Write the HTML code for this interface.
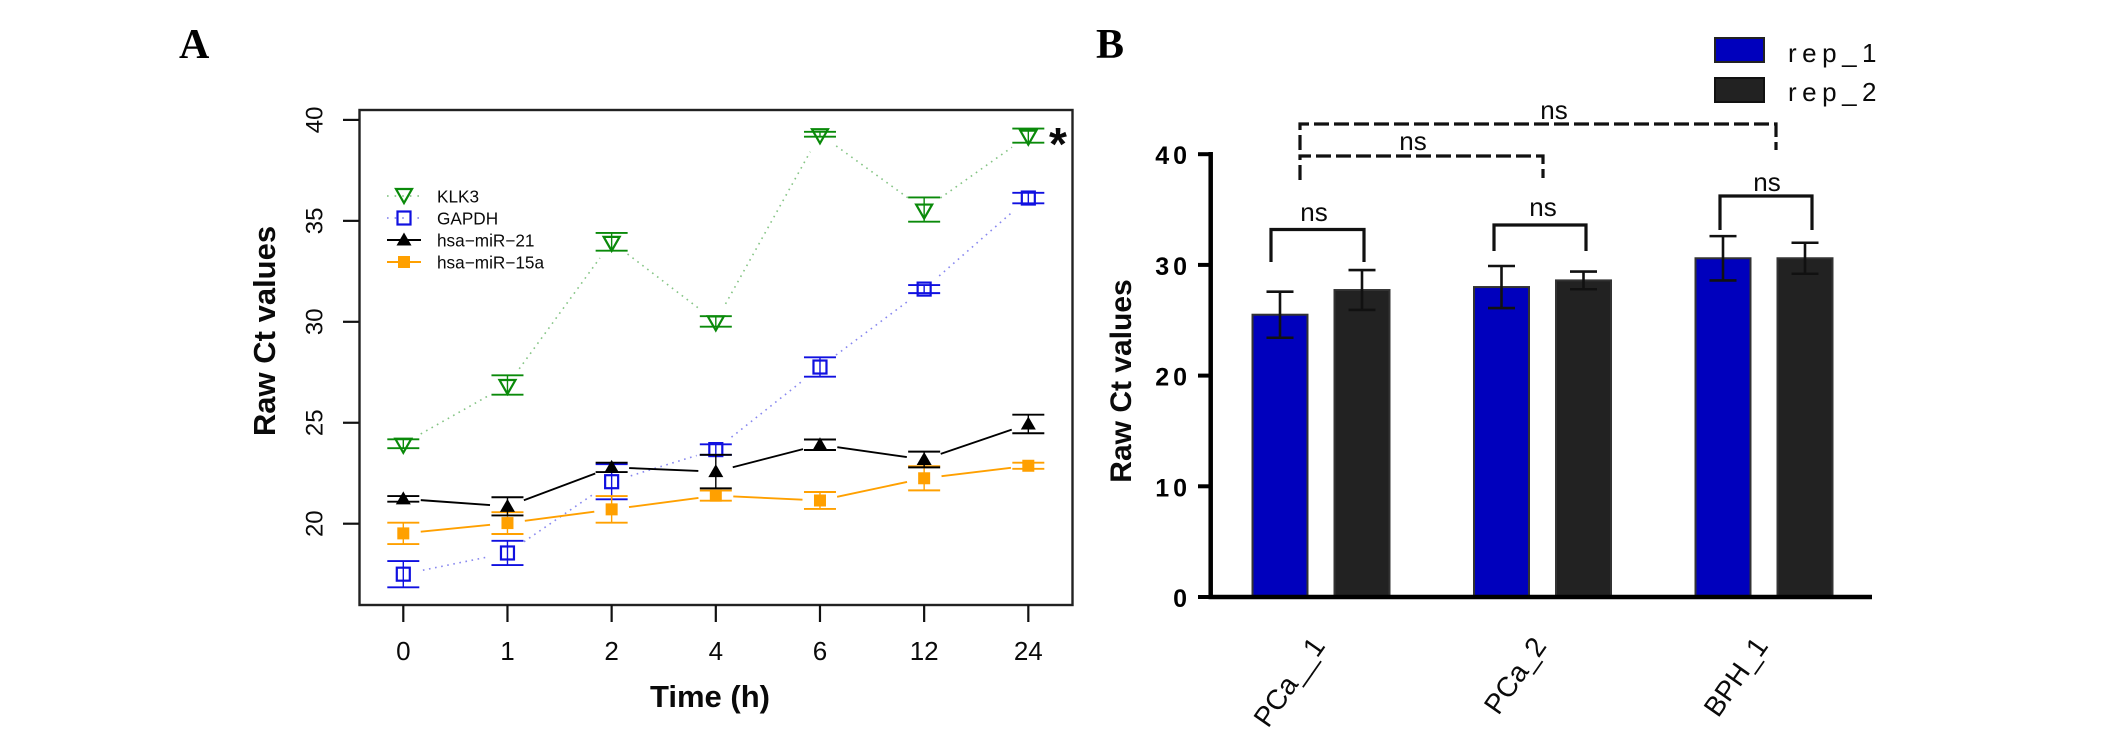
<!DOCTYPE html>
<html lang="en">
<head>
<meta charset="utf-8">
<title>Raw Ct values charts</title>
<style>
html,body{margin:0;padding:0;background:#fff;width:2126px;height:739px;overflow:hidden}
svg{display:block}
text{font-family:"Liberation Sans",sans-serif;fill:#0a0a0a}
</style>
</head>
<body>
<svg id="figure" width="2126" height="739" viewBox="0 0 2126 739" xmlns="http://www.w3.org/2000/svg">
  <rect width="2126" height="739" fill="#fff"/>
  <text x="179" y="58" style="font-family:'Liberation Serif',serif;font-weight:bold;font-size:42px;fill:#000">A</text>
  <text x="1096" y="58" style="font-family:'Liberation Serif',serif;font-weight:bold;font-size:42px;fill:#000">B</text>

  <rect x="359.5" y="110" width="713" height="495" fill="none" stroke="#222" stroke-width="2.4"/>
  <g id="panelA"></g>
  <text transform="translate(275,331) rotate(-90)" text-anchor="middle" style="font-weight:bold;font-size:31px">Raw Ct values</text>
  <text x="710" y="707" text-anchor="middle" style="font-weight:bold;font-size:31px">Time (h)</text>
  <text x="1058" y="160" text-anchor="middle" style="font-weight:bold;font-size:46px">*</text>

  <g id="legendA"></g>

  <g id="panelB"></g>
  <text transform="translate(1131,381) rotate(-90)" text-anchor="middle" style="font-weight:bold;font-size:30px">Raw Ct values</text>

  <g>
    <rect x="1715" y="38" width="49" height="24" fill="#0000bd" stroke="#222" stroke-width="2"/>
    <rect x="1715" y="78" width="49" height="24" fill="#222" stroke="#111" stroke-width="2"/>
    <text x="1788" y="62" style="font-size:26px;letter-spacing:5.5px">rep_1</text>
    <text x="1788" y="101" style="font-size:26px;letter-spacing:5.5px">rep_2</text>
  </g>

  <g fill="none" stroke="#111" stroke-width="3.2">
    <path d="M1271 262V229.5H1364V262"/>
    <path d="M1494 251V225H1586V251"/>
    <path d="M1720 230V196H1812V230"/>
    <path d="M1300 180V156H1543V178" stroke-dasharray="15 5"/>
    <path d="M1300 150V124H1776V150" stroke-dasharray="15 5"/>
  </g>
  <g text-anchor="middle" style="font-size:26px">
    <text x="1314" y="221">ns</text>
    <text x="1543" y="216">ns</text>
    <text x="1767" y="191">ns</text>
    <text x="1413" y="150">ns</text>
    <text x="1554" y="119">ns</text>
  </g>
</svg>
<script>
// ---------- Panel A data ----------
var timeLabels = ['0', '1', '2', '4', '6', '12', '24'];
var lineTicks = [20, 25, 30, 35, 40];
var klk3Values = [23.96, 26.87, 33.96, 30.02, 39.29, 35.56, 39.22];
var klk3Errors = [0.22, 0.48, 0.44, 0.26, 0.12, 0.6, 0.35];
var gapdhValues = [17.5, 18.55, 22.08, 23.67, 27.76, 31.62, 36.13];
var gapdhErrors = [0.65, 0.6, 0.87, 0.26, 0.48, 0.2, 0.26];
var mir21Values = [21.23, 20.86, 22.79, 22.58, 23.91, 23.18, 24.94];
var mir21Errors = [0.14, 0.45, 0.23, 0.83, 0.26, 0.39, 0.46];
var mir15Values = [19.52, 20.03, 20.71, 21.39, 21.15, 22.25, 22.87];
var mir15Errors = [0.53, 0.54, 0.66, 0.25, 0.42, 0.6, 0.15];
var seriesNames = ['KLK3', 'GAPDH', 'hsa\u2212miR\u221221', 'hsa\u2212miR\u221215a'];

// ---------- Panel B data ----------
var sampleLabels = ['PCa__1', 'PCa_2', 'BPH_1'];
var barTicks = [0, 10, 20, 30, 40];
var rep1Values = [25.5, 28.0, 30.6];
var rep1Errors = [2.08, 1.9, 2.0];
var rep2Values = [27.73, 28.6, 30.6];
var rep2Errors = [1.8, 0.8, 1.4];

var NS = 'http://www.w3.org/2000/svg';
function mk(parent, tag, name, attrs, txt) {
  var el = document.createElementNS(NS, tag);
  
  
  for (var k in attrs) { el.setAttribute(k, attrs[k]); }
  if (txt !== undefined) { el.textContent = txt; }
  parent.appendChild(el);
  return el;
}

// ---------- Panel A axes ----------
function xA(i) { return 403.3 + i * 104.17; }
function yA(v) { return 523.7 - (v - 20) * 20.19; }

var panelA = document.getElementById('panelA');
lineTicks.forEach(function (t) {
  mk(panelA, 'line', 'y-tick-' + t, {x1: 343, x2: 359, y1: yA(t), y2: yA(t), stroke: '#111', 'stroke-width': 2.2});
  mk(panelA, 'text', 'y-tick-label-' + t, {transform: 'translate(322.5,' + yA(t) + ') rotate(-90)', 'text-anchor': 'middle', style: 'font-size:24px'}, String(t));
});
timeLabels.forEach(function (t, i) {
  mk(panelA, 'line', 'x-tick-' + t, {x1: xA(i), x2: xA(i), y1: 605, y2: 622, stroke: '#111', 'stroke-width': 2.2});
  mk(panelA, 'text', 'x-tick-label-' + t, {x: xA(i), y: 660, 'text-anchor': 'middle', style: 'font-size:26px'}, t);
});

function marker(parent, kind, color, cx, cy, name) {
  if (kind === 'down') {
    mk(parent, 'polygon', name, {points: (cx - 8) + ',' + (cy - 5) + ' ' + (cx + 8) + ',' + (cy - 5) + ' ' + cx + ',' + (cy + 9), fill: 'none', stroke: color, 'stroke-width': 2.2});
  } else if (kind === 'box') {
    mk(parent, 'rect', name, {x: cx - 6.5, y: cy - 6.5, width: 13, height: 13, fill: 'none', stroke: color, 'stroke-width': 2.2});
  } else if (kind === 'up') {
    mk(parent, 'polygon', name, {points: (cx - 7.5) + ',' + (cy + 5.5) + ' ' + (cx + 7.5) + ',' + (cy + 5.5) + ' ' + cx + ',' + (cy - 7.5), fill: color});
  } else {
    mk(parent, 'rect', name, {x: cx - 6, y: cy - 6, width: 12, height: 12, fill: color});
  }
}

function drawSeries(key, values, errors, color, kind, dotted) {
  var g = mk(panelA, 'g', 'series-' + key, {});
  var gap = dotted ? 20 : 17.5;
  for (var i = 0; i + 1 < values.length; i++) {
    var x1 = xA(i), y1 = yA(values[i]), x2 = xA(i + 1), y2 = yA(values[i + 1]);
    var d = Math.sqrt((x2 - x1) * (x2 - x1) + (y2 - y1) * (y2 - y1));
    var ux = (x2 - x1) / d, uy = (y2 - y1) / d;
    var a = {x1: x1 + ux * gap, y1: y1 + uy * gap, x2: x2 - ux * gap, y2: y2 - uy * gap, stroke: color, 'stroke-width': dotted ? 1.6 : 1.9};
    if (dotted) { a['stroke-dasharray'] = '1.6 4.6'; a['stroke-opacity'] = 0.5; }
    mk(g, 'line', key + '-line-segment', a);
  }
  values.forEach(function (v, i) {
    var x = xA(i), hi = yA(v + errors[i]), lo = yA(v - errors[i]);
    mk(g, 'line', key + '-error-stem', {x1: x, x2: x, y1: hi, y2: lo, stroke: color, 'stroke-width': 1.4});
    mk(g, 'line', key + '-error-cap-upper', {x1: x - 16, x2: x + 16, y1: hi, y2: hi, stroke: color, 'stroke-width': 1.9});
    mk(g, 'line', key + '-error-cap-lower', {x1: x - 16, x2: x + 16, y1: lo, y2: lo, stroke: color, 'stroke-width': 1.9});
    marker(g, kind, color, x, yA(v), key + '-point-' + timeLabels[i]);
  });
}
drawSeries('klk3', klk3Values, klk3Errors, '#0a8a0a', 'down', true);
drawSeries('gapdh', gapdhValues, gapdhErrors, '#1010e0', 'box', true);
drawSeries('mir-15a', mir15Values, mir15Errors, '#ffa000', 'square', false);
drawSeries('mir-21', mir21Values, mir21Errors, '#000000', 'up', false);

// ---------- Panel A legend ----------
var legendA = document.getElementById('legendA');
var legendColors = ['#0a8a0a', '#1010e0', '#000000', '#ffa000'];
var legendKinds = ['down', 'box', 'up', 'square'];
seriesNames.forEach(function (n, i) {
  var y = 196 + i * 22;
  var a = {x1: 387, x2: 421, y1: y, y2: y, stroke: legendColors[i], 'stroke-width': i > 1 ? 1.9 : 1.6};
  if (i < 2) { a['stroke-dasharray'] = '1.6 6'; a['stroke-opacity'] = 0.55; }
  var key = ['klk3', 'gapdh', 'mir-21', 'mir-15a'][i];
  mk(legendA, 'line', 'legend-line-' + key, a);
  marker(legendA, legendKinds[i], legendColors[i], 404, y - (i === 0 ? 2 : 0), 'legend-marker-' + key);
  mk(legendA, 'text', 'legend-label-' + key, {x: 437, y: y + 6.5, style: 'font-size:17.2px'}, n);
});

// ---------- Panel B axes ----------
function xB(i) { return 1321 + i * 221.5; }
function yB(v) { return 597 - v * 11.07; }

var panelB = document.getElementById('panelB');
function drawBar(key, color, off, i, v, e) {
  var cx = xB(i) + off;
  var hi = yB(v + e), lo = yB(v - e);
  mk(panelB, 'rect', 'bar-' + key + '-' + sampleLabels[i], {x: cx - 27.5, y: yB(v), width: 55, height: 597 - yB(v), fill: color, stroke: '#333', 'stroke-width': 2});
  mk(panelB, 'line', 'error-stem-' + key + '-' + sampleLabels[i], {x1: cx, x2: cx, y1: hi, y2: lo, stroke: '#111', 'stroke-width': 2.6});
  mk(panelB, 'line', 'error-cap-upper-' + key + '-' + sampleLabels[i], {x1: cx - 13.5, x2: cx + 13.5, y1: hi, y2: hi, stroke: '#111', 'stroke-width': 2.6});
  mk(panelB, 'line', 'error-cap-lower-' + key + '-' + sampleLabels[i], {x1: cx - 13.5, x2: cx + 13.5, y1: lo, y2: lo, stroke: '#111', 'stroke-width': 2.6});
}
sampleLabels.forEach(function (s, i) {
  drawBar('rep-1', '#0000bd', -41, i, rep1Values[i], rep1Errors[i]);
  drawBar('rep-2', '#222222', 41, i, rep2Values[i], rep2Errors[i]);
  mk(panelB, 'text', 'x-tick-label-' + s, {transform: 'translate(' + (xB(i) + 5) + ',646) rotate(-55)', 'text-anchor': 'end', style: 'font-size:28px'}, s);
});
mk(panelB, 'line', 'y-axis-line', {x1: 1210.7, x2: 1210.7, y1: 152, y2: 599, stroke: '#000', 'stroke-width': 4.5});
mk(panelB, 'line', 'x-axis-line', {x1: 1208.5, x2: 1872, y1: 597, y2: 597, stroke: '#000', 'stroke-width': 4.5});
barTicks.forEach(function (t) {
  mk(panelB, 'line', 'y-tick-' + t, {x1: 1198, x2: 1211, y1: yB(t), y2: yB(t), stroke: '#000', 'stroke-width': 4});
  mk(panelB, 'text', 'y-tick-label-' + t, {x: 1191, y: yB(t) + 10, 'text-anchor': 'end', style: 'font-weight:bold;font-size:25px;letter-spacing:4px;fill:#000'}, String(t));
});
</script>
</body>
</html>
